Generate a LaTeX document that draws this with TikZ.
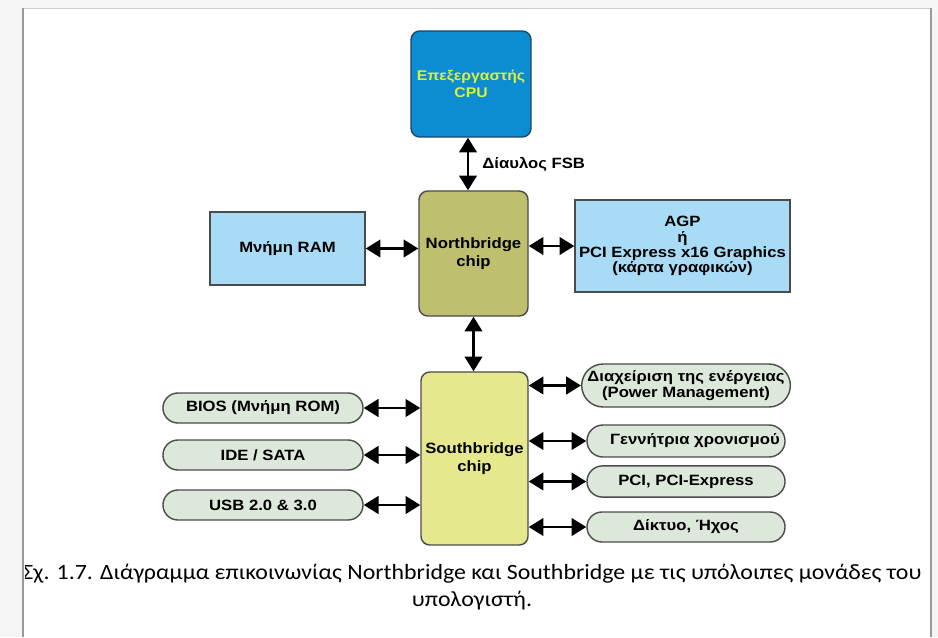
\documentclass[tikz,border=0pt]{standalone}
\usepackage{fontspec}
\setmainfont{Liberation Sans}[FakeStretch=1.12]
\newfontfamily\capfont{Carlito}[FakeStretch=1.095]
\usetikzlibrary{arrows.meta}
\usetikzlibrary{shapes.misc}
\definecolor{cpublue}{RGB}{12,141,210}
\definecolor{cpuline}{RGB}{30,70,110}
\definecolor{cputext}{RGB}{222,240,60}
\definecolor{nbolive}{RGB}{190,192,112}
\definecolor{sbyellow}{RGB}{230,232,142}
\definecolor{ramblue}{RGB}{168,220,246}
\definecolor{pillgreen}{RGB}{220,232,217}
\definecolor{boxline}{RGB}{75,75,75}
\tikzset{box/.style = {draw=boxline, line width=1pt, align=center, inner sep=0,
                       font=\bfseries\fontsize{10.6}{10.8}\selectfont}}
\tikzset{chip/.style = {box, rounded corners=0.22cm, font=\bfseries\fontsize{10.6}{13}\selectfont}}
\tikzset{pill/.style = {box, rounded rectangle, fill=pillgreen,
                        minimum width=5cm, minimum height=0.75cm}}
\tikzset{biarrow/.style = {{Triangle[length=10.5pt 0 0,width=12.5pt 0]}-{Triangle[length=10.5pt 0 0,width=12.5pt 0]},
                           line width=1.8pt}}

\begin{document}
\begin{tikzpicture}[x=0.025cm, y=-0.025cm]
    \useasboundingbox (0, 0) rectangle (938, 637);
    \fill [black!4] (0, 0) rectangle (938, 637);
    \fill [white] (24, 8) rectangle (930, 637);
    \draw [black!20] (24, 8) -- (930, 8);
    \draw [black!40, line width=2pt] (23, 8) -- (23, 637);
    \draw [black!40, line width=2pt] (931, 8) -- (931, 637);

    % processor and northbridge
    \node [chip, fill=cpublue, draw=cpuline, text=cputext, minimum width=3cm, minimum height=2.65cm,
           font=\bfseries\fontsize{10}{12}\selectfont]
        (cpu) at (471, 84) {Επεξεργαστής\\CPU};
    \node [chip, fill=nbolive, minimum width=2.725cm, minimum height=3.125cm]
        (nb) at (473.5, 253.5) {Northbridge\\chip};
    \node [box, fill=ramblue, minimum width=3.875cm, minimum height=1.825cm]
        (ram) at (287.5, 248.5) {Μνήμη RAM};
    \node [box, fill=ramblue, minimum width=5.375cm, minimum height=2.3cm]
        (agp) at (682.5, 246) {AGP\\ή\\PCI Express x16 Graphics\\(κάρτα γραφικών)};

    % southbridge
    \node [chip, fill=sbyellow, minimum width=2.675cm, minimum height=4.325cm]
        (sb) at (474.5, 458.5) {Southbridge\\chip};
    \node [pill] (bios) at (263, 408) {BIOS (Μνήμη ROM)};
    \node [pill] (ide) at (263, 455) {IDE / SATA};
    \node [pill] (usb) at (263, 505) {USB 2.0 \& 3.0};
    \node [pill, minimum width=4.95cm, minimum height=1.075cm]
        (power) at (686, 385.5) {Διαχείριση της ενέργειας\\(Power Management)};
    \node [pill, minimum width=4.95cm, minimum height=0.8cm]
        (clock) at (686, 441) {\hspace{1.2em}Γεννήτρια χρονισμού};
    \node [pill, minimum width=4.95cm, minimum height=0.78cm]
        (pci) at (686, 481.5) {PCI, PCI-Express};
    \node [pill, minimum width=4.95cm, minimum height=0.75cm]
        (net) at (686, 527) {Δίκτυο, Ήχος};

    \draw [biarrow] (cpu.south -| 468, 0) -- (nb.north -| 468, 0)
        node [midway, right=6pt, font=\bfseries\fontsize{10.6}{12}\selectfont] {Δίαυλος FSB};
    \draw [biarrow] (ram.east) -- (ram.east -| nb.west);
    \draw [biarrow] (nb.east |- agp.west) -- (agp.west);
    \draw [biarrow] (nb.south) -- (nb.south |- sb.north);
    \foreach \dev in {bios, ide, usb}
        \draw [biarrow] (\dev.east) -- (\dev.east -| sb.west);
    \foreach \dev in {power, clock, pci, net}
        \draw [biarrow] (sb.east |- \dev.west) -- (\dev.west);

    \begin{scope}
      \clip (25, 8) rectangle (930, 637);
      \node [font=\capfont\fontsize{15.5}{19.5}\selectfont, align=center] (caption) at (472, 587)
          {Σχ. 1.7. Διάγραμμα επικοινωνίας Northbridge και Southbridge με τις υπόλοιπες μονάδες του\\υπολογιστή.};
    \end{scope}
  \end{tikzpicture}
\end{document}
